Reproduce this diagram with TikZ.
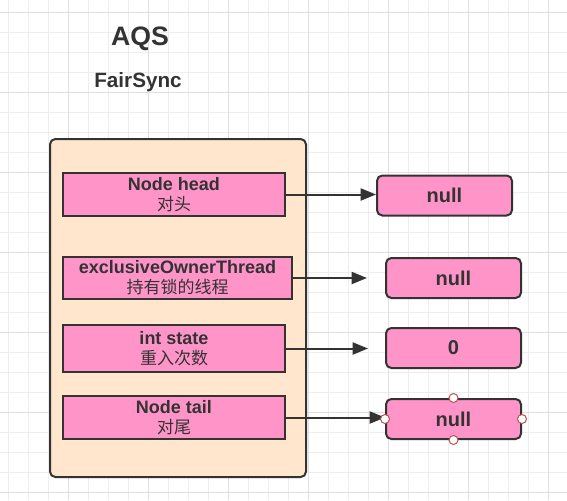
\documentclass[tikz,border=0pt]{standalone}
\usepackage{fontspec}
\setmainfont{Liberation Sans}
\newfontfamily\cjk{Noto Sans CJK SC}
\usetikzlibrary{arrows.meta}
\definecolor{gridminor}{HTML}{EEEEEE}
\definecolor{gridmajor}{HTML}{E0E0E0}
\definecolor{peach}{HTML}{FFE6CC}
\definecolor{pinkbox}{HTML}{FF94C9}
\definecolor{ink}{HTML}{333333}
\definecolor{handle}{HTML}{B85450}
\tikzset{
  field/.style={draw=ink, line width=1.5pt, fill=pinkbox, inner sep=0pt, align=center,
    text=ink, font=\fontsize{13.5}{15}\selectfont\bfseries},
  valbox/.style={draw=ink, line width=1.5pt, fill=pinkbox, rounded corners=4pt, inner sep=0pt,
    text=ink, font=\fontsize{15}{18}\selectfont\bfseries, minimum width=101.25pt, minimum height=30pt},
  conn/.style={draw=ink, line width=1.5pt, -{Triangle[length=11.5pt,width=9pt]}},
  hdl/.style={circle, draw=handle, line width=0.75pt, fill=white, minimum size=6.75pt, inner sep=0pt},
  ttl/.style={text=ink, font=\bfseries, inner sep=0pt}
}
\newcommand{\zh}[1]{{\cjk\mdseries\fontsize{12.75}{15}\selectfont #1}}
\begin{document}
\begin{tikzpicture}[x=0.75pt,y=-0.75pt]
\useasboundingbox (0,0) rectangle (567,500);
\fill[white] (0,0) rectangle (567,500);
% grid
\foreach \gx in {8,28,...,548} {\draw[gridminor, line width=0.75pt] (\gx,0) -- (\gx,500);}
\foreach \gy in {12,32,...,492} {\draw[gridminor, line width=0.75pt] (0,\gy) -- (567,\gy);}
\foreach \gx in {68,148,...,548} {\draw[gridmajor, line width=0.75pt] (\gx,0) -- (\gx,500);}
\foreach \gy in {12,92,...,492} {\draw[gridmajor, line width=0.75pt] (0,\gy) -- (567,\gy);}
% titles
\node[ttl, font=\fontsize{20}{24}\selectfont\bfseries] (aqs) at (140,39) {AQS};
\node[ttl, font=\fontsize{15.5}{18}\selectfont\bfseries] (fs) at (138,82) {FairSync};
% container
\node[draw=ink, line width=1.5pt, fill=peach, rounded corners=4pt, minimum width=192pt, minimum height=253.5pt, inner sep=0pt] (cont) at (178,308) {};
% fields
\node[field, minimum width=166.5pt, minimum height=32.25pt] (head) at (174,194.5) {Node head\\\zh{对头}};
\node[field, minimum width=171.75pt, minimum height=31.5pt] (eot) at (177.5,278) {exclusiveOwnerThread\\\zh{持有锁的线程}};
\node[field, minimum width=166.5pt, minimum height=35.25pt] (state) at (174,348.5) {int state\\\zh{重入次数}};
\node[field, minimum width=166.5pt, minimum height=32.25pt] (tail) at (174,417.5) {Node tail\\\zh{对尾}};
% values
\node[valbox] (v1) at (444.5,195.5) {null};
\node[valbox] (v2) at (453.5,278) {null};
\node[valbox] (v3) at (453.5,348) {0};
\node[valbox] (v4) at (453.5,419) {null};
% free ends
\coordinate (e2) at (367,278);
\coordinate (e3) at (368,348.5);
% connectors
\draw[conn] (head.east) -- (head.east -| v1.west);
\draw[conn] (eot.east) -- (e2);
\draw[conn] (state.east) -- (e3);
\draw[conn] (tail.east) -- (tail.east -| v4.west);
% handles
\node[hdl] (h1) at (v4.north) {};
\node[hdl] (h2) at (v4.south) {};
\node[hdl] (h3) at (v4.east) {};
\node[hdl] (h4) at (v4.west) {};
\end{tikzpicture}
\end{document}
